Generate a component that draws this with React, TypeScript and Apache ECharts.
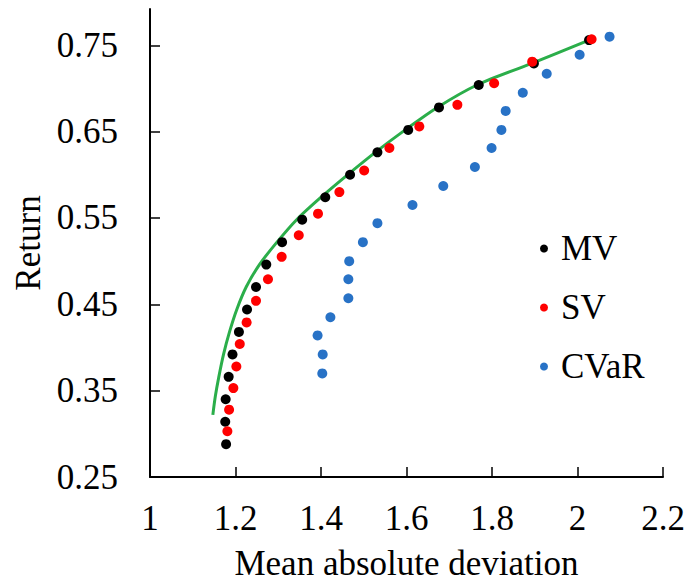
import React, { useEffect, useRef } from "react";
import * as echarts from "echarts";

const mvX = [1.178, 1.176, 1.177, 1.184, 1.193, 1.208, 1.227, 1.248, 1.272, 1.309, 1.356, 1.41, 1.468, 1.532, 1.604, 1.676, 1.769, 1.898, 2.027];
const mvY = [0.288, 0.314, 0.34, 0.366, 0.392, 0.418, 0.444, 0.47, 0.496, 0.522, 0.548, 0.574, 0.6, 0.626, 0.652, 0.678, 0.704, 0.729, 0.756];

const svX = [1.181, 1.185, 1.195, 1.202, 1.21, 1.226, 1.248, 1.276, 1.308, 1.348, 1.393, 1.443, 1.501, 1.56, 1.63, 1.719, 1.805, 1.894, 2.033];
const svY = [0.303, 0.328, 0.353, 0.378, 0.404, 0.429, 0.454, 0.479, 0.505, 0.53, 0.555, 0.58, 0.605, 0.631, 0.656, 0.681, 0.706, 0.731, 0.757];

const cvarX = [1.403, 1.404, 1.392, 1.422, 1.464, 1.464, 1.466, 1.498, 1.532, 1.614, 1.686, 1.76, 1.799, 1.822, 1.832, 1.872, 1.928, 2.005, 2.075];
const cvarY = [0.37, 0.392, 0.414, 0.435, 0.457, 0.479, 0.5, 0.522, 0.544, 0.565, 0.587, 0.609, 0.631, 0.652, 0.674, 0.695, 0.717, 0.739, 0.76];

const frontierX = [1.147, 1.153, 1.161, 1.172, 1.186, 1.203, 1.225, 1.256, 1.297, 1.343, 1.4, 1.462, 1.527, 1.597, 1.672, 1.765, 1.893, 2.027];
const frontierY = [0.322, 0.344, 0.366, 0.392, 0.418, 0.444, 0.47, 0.496, 0.522, 0.548, 0.574, 0.6, 0.626, 0.652, 0.678, 0.704, 0.729, 0.756];

const yTicks = [0.25, 0.35, 0.45, 0.55, 0.65, 0.75];

const zip = (xs: number[], ys: number[]) => xs.map((x, i) => [x, ys[i]]);

const FONT = "'Liberation Serif', 'Times New Roman', serif";

export default function App() {
  const ref = useRef<HTMLDivElement>(null);
  useEffect(() => {
    document.body.style.margin = "0";
    const chart = echarts.init(ref.current!, null, { renderer: "svg" });
    chart.setOption({
      animation: false,
      backgroundColor: "#ffffff",
      grid: { left: 150, right: 28, top: 9, bottom: 107, outerBoundsMode: "none", containLabel: false },
      legend: {
        data: ["MV", "SV", "CVaR"],
        orient: "vertical",
        left: 535,
        top: 226,
        icon: "circle",
        itemWidth: 8,
        itemHeight: 8,
        itemGap: 24,
        textStyle: { fontFamily: FONT, fontSize: 35, color: "#000", lineHeight: 35, padding: [0, 0, 0, 8] },
      },
      xAxis: {
        type: "value",
        min: 1,
        max: 2.2,
        interval: 0.2,
        name: "Mean absolute deviation",
        nameLocation: "middle",
        nameGap: 69,
        nameTextStyle: { fontFamily: FONT, fontSize: 35, color: "#000" },
        axisLine: { lineStyle: { color: "#000", width: 2 } },
        axisTick: { inside: true, length: 10, lineStyle: { color: "#000", width: 1.5 } },
        axisLabel: { fontFamily: FONT, fontSize: 35, color: "#000", margin: 24 },
        splitLine: { show: false },
      },
      yAxis: {
        type: "value",
        min: 0.25,
        max: 0.792,
        name: "Return",
        nameLocation: "middle",
        nameGap: 101,
        nameTextStyle: { fontFamily: FONT, fontSize: 35, color: "#000" },
        axisLine: { onZero: false, lineStyle: { color: "#000", width: 2 } },
        axisTick: { inside: true, length: 10, customValues: yTicks, lineStyle: { color: "#000", width: 1.5 } },
        axisLabel: {
          fontFamily: FONT,
          fontSize: 35,
          color: "#000",
          margin: 32,
          customValues: yTicks,
          formatter: (v: number) => v.toFixed(2),
        },
        splitLine: { show: false },
      },
      series: [
        {
          name: "Frontier",
          type: "line",
          data: zip(frontierX, frontierY),
          smooth: 0.3,
          symbol: "none",
          lineStyle: { color: "#2BAE4A", width: 3 },
          z: 1,
        },
        {
          name: "MV",
          type: "scatter",
          data: zip(mvX, mvY),
          symbolSize: 10,
          itemStyle: { color: "#000000", opacity: 1 },
          z: 2,
        },
        {
          name: "SV",
          type: "scatter",
          data: zip(svX, svY),
          symbolSize: 10,
          itemStyle: { color: "#FF0000", opacity: 1 },
          z: 3,
        },
        {
          name: "CVaR",
          type: "scatter",
          data: zip(cvarX, cvarY),
          symbolSize: 10,
          itemStyle: { color: "#2872C6", opacity: 1 },
          z: 3,
        },
      ],
    });
    return () => chart.dispose();
  }, []);
  return <div ref={ref} style={{ width: 691, height: 584 }} />;
}
